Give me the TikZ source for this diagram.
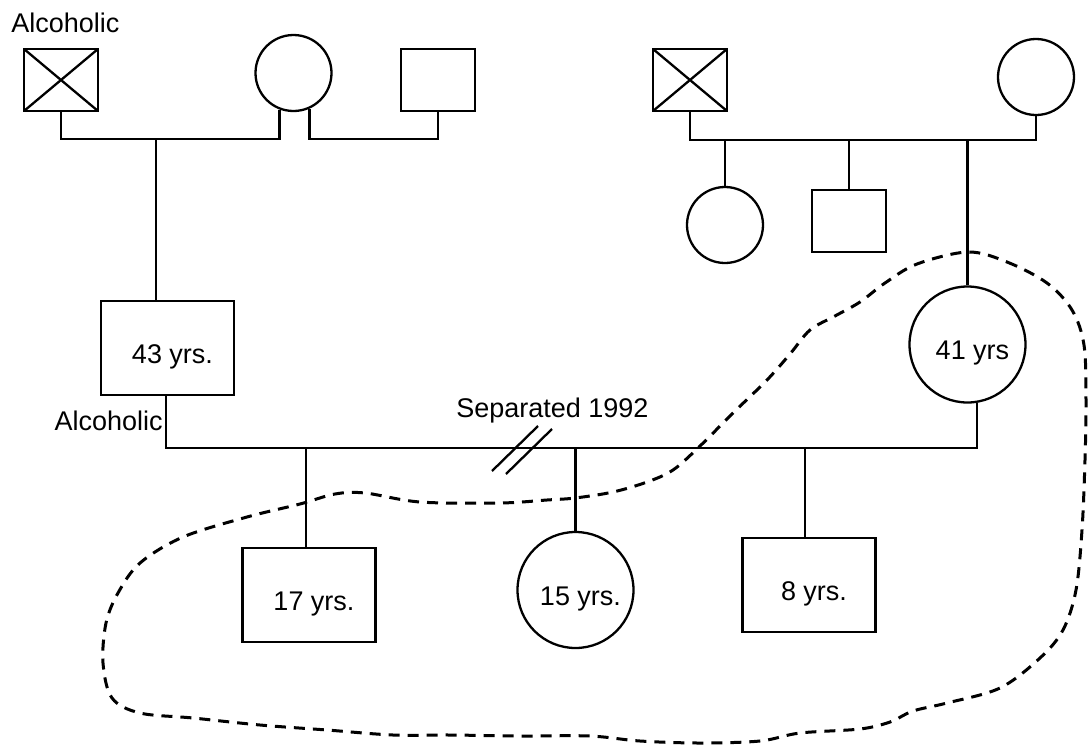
\documentclass[tikz,border=0pt]{standalone}
\usepackage{fontspec}
\setmainfont{Liberation Sans}
\begin{document}
\begin{tikzpicture}[x=0.5pt,y=-0.5pt,
  every node/.style={font=\fontsize{13.5}{16}\selectfont, inner sep=0pt},
  pl/.style={line width=1.15pt},
  male/.style={draw, pl, rectangle, minimum width=37pt, minimum height=31pt},
  bigmale/.style={draw, pl, rectangle, minimum width=66.5pt, minimum height=47pt},
  female/.style={draw, pl, circle, minimum size=38pt},
  bigfemale/.style={draw, pl, circle, minimum size=58pt},
  crossed/.style={path picture={\draw[pl] (path picture bounding box.north west) -- (path picture bounding box.south east) (path picture bounding box.south west) -- (path picture bounding box.north east);}},
  agetext/.style={label={[xshift=2.5pt,yshift=-4.5pt]center:#1}},
  boundary/.style={line width=1.5pt, dash pattern=on 5.5pt off 4pt}
]
\useasboundingbox (0,0) rectangle (1088,745);

% first generation, father's side
\node[male, crossed] (gfA) at (61,80) {};
\node[female] (gmA) at (293.5,73) {};
\node[male] (sgfA) at (438,80) {};
% first generation, mother's side
\node[male, crossed] (gfB) at (690,80) {};
\node[female] (gmB) at (1036,77) {};
\node[female] (auntB) at (725,225) {};
\node[male] (uncleB) at (849,221) {};
% parents
\node[bigmale, agetext={43 yrs.}] (father) at (167.5,348) {};
\node[bigfemale, agetext={41 yrs}] (mother) at (967.5,344.5) {};
% children
\node[bigmale, agetext={17 yrs.}] (son17) at (309,595) {};
\node[bigfemale, agetext={15 yrs.}] (dau15) at (575.5,590) {};
\node[bigmale, agetext={8 yrs.}] (son8) at (809,585) {};

% labels
\node[anchor=base west] (alc1) at (11,32) {Alcoholic};
\node[anchor=base east] (alc2) at (163,430) {Alcoholic};
\node[anchor=base west] (sep) at (456,417) {Separated 1992};

% junction coordinates
\coordinate (j1) at (156,139);
\coordinate (j2) at (691,140);
\coordinate (j3) at (166,448);

% father's side lines
\draw[pl] (gfA.south) -- (gfA.south |- j1) -- (gmA.-111 |- j1) -- (gmA.-111);
\draw[pl] (gmA.-66) -- (gmA.-66 |- j1) -- (sgfA.south |- j1) -- (sgfA.south);
\draw[pl] (j1) -- (j1 |- father.north);
% mother's side lines
\draw[pl] (gfB.south) -- (gfB.south |- j2) -- (gmB.south |- j2) -- (gmB.south);
\draw[pl] (auntB.north |- j2) -- (auntB.north);
\draw[pl] (uncleB.north |- j2) -- (uncleB.north);
\draw[pl] (mother.north |- j2) -- (mother.north);
% marriage line
\draw[pl] (father.south -| j3) -- (j3) -- (mother.-81 |- j3) -- (mother.-81);
% children lines
\draw[pl] (son17.north -| 306,0) -- (306,448);
\draw[pl] (dau15.north) -- (dau15.north |- j3);
\draw[pl] (son8.north -| 805,0) -- (805,448);
% separation hatch
\draw[pl] (492,471) -- (538,426);
\draw[pl] (506,474) -- (552,429);

% dashed boundary
\draw[boundary] plot[smooth cycle, tension=0.55] coordinates {
 (968,252) (1007,262) (1047,283) (1072,310) (1084,345) (1086,400) (1085,460)
 (1082,530) (1076,590) (1063,630) (1040,658) (1000,688) (947,703) (913,711)
 (890,722) (860,729) (800,733) (760,741) (700,743) (640,741) (590,736)
 (520,736) (450,735) (393,735) (327,730) (260,725) (193,718) (140,713)
 (112,698) (103,663) (106,623) (118,593) (140,563) (183,537) (247,517)
 (300,504) (335,494) (365,493) (420,502) (500,503) (547,500) (575,498)
 (613,492) (647,482) (673,470) (699,447) (733,413) (767,380) (790,354)
 (810,330) (835,316) (860,302) (885,283) (917,264)
};
\end{tikzpicture}
\end{document}
